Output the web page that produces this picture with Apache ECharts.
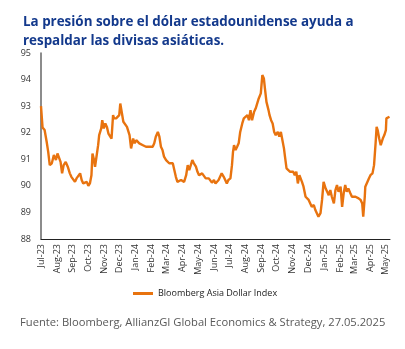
<!DOCTYPE html>
<html><head><meta charset="utf-8">
<script src="https://cdn.jsdelivr.net/npm/echarts@6/dist/echarts.min.js"></script>
<style>html,body{margin:0;padding:0;background:#fff}#c{width:405px;height:349px}</style>
</head><body><div id="c"></div>
<script>
const titleText = "La presión sobre el dólar estadounidense ayuda a\nrespaldar las divisas asiáticas.";
const sourceText = "Fuente: Bloomberg, AllianzGI Global Economics & Strategy, 27.05.2025";
const seriesName = "Bloomberg Asia Dollar Index";
const yTicks = [88, 89, 90, 91, 92, 93, 94, 95];
const monthTicks = ["2023-07-01","2023-08-01","2023-09-01","2023-10-01","2023-11-01","2023-12-01","2024-01-01","2024-02-01","2024-03-01","2024-04-01","2024-05-01","2024-06-01","2024-07-01","2024-08-01","2024-09-01","2024-10-01","2024-11-01","2024-12-01","2025-01-01","2025-02-01","2025-03-01","2025-04-01","2025-05-01"];
const monthLabels = ["Jul-23","Aug-23","Sep-23","Oct-23","Nov-23","Dec-23","Jan-24","Feb-24","Mar-24","Apr-24","May-24","Jun-24","Jul-24","Aug-24","Sep-24","Oct-24","Nov-24","Dec-24","Jan-25","Feb-25","Mar-25","Apr-25","May-25"];
const axisEnd = "2025-05-09";
const dates = [
"2023-07-01","2023-07-04","2023-07-08","2023-07-12","2023-07-15","2023-07-18","2023-07-22","2023-07-26","2023-07-30","2023-08-02",
"2023-08-05","2023-08-08","2023-08-11","2023-08-14","2023-08-18","2023-08-22","2023-08-26","2023-08-29","2023-09-01","2023-09-05",
"2023-09-08","2023-09-11","2023-09-15","2023-09-18","2023-09-21","2023-09-24","2023-09-28","2023-10-01","2023-10-04","2023-10-07",
"2023-10-09","2023-10-12","2023-10-14","2023-10-17","2023-10-20","2023-10-22","2023-10-26","2023-10-28","2023-10-31","2023-11-03",
"2023-11-06","2023-11-09","2023-11-12","2023-11-15","2023-11-18","2023-11-20","2023-11-24","2023-11-27","2023-11-30","2023-12-02",
"2023-12-05","2023-12-08","2023-12-11","2023-12-15","2023-12-17","2023-12-20","2023-12-23","2023-12-27","2023-12-30","2024-01-02",
"2024-01-05","2024-01-08","2024-01-11","2024-01-15","2024-01-18","2024-01-21","2024-01-24","2024-01-28","2024-01-31","2024-02-03",
"2024-02-06","2024-02-09","2024-02-13","2024-02-16","2024-02-19","2024-02-22","2024-02-25","2024-02-29","2024-03-03","2024-03-06",
"2024-03-09","2024-03-13","2024-03-16","2024-03-19","2024-03-22","2024-03-25","2024-03-29","2024-04-01","2024-04-04","2024-04-08",
"2024-04-11","2024-04-14","2024-04-17","2024-04-20","2024-04-23","2024-04-27","2024-04-30","2024-05-03","2024-05-06","2024-05-09",
"2024-05-12","2024-05-16","2024-05-19","2024-05-22","2024-05-25","2024-05-28","2024-06-01","2024-06-04","2024-06-07","2024-06-10",
"2024-06-13","2024-06-16","2024-06-20","2024-06-23","2024-06-26","2024-06-29","2024-07-03","2024-07-06","2024-07-08","2024-07-10",
"2024-07-13","2024-07-16","2024-07-19","2024-07-22","2024-07-26","2024-07-29","2024-08-01","2024-08-05","2024-08-08","2024-08-11",
"2024-08-14","2024-08-18","2024-08-21","2024-08-24","2024-08-27","2024-08-31","2024-09-03","2024-09-06","2024-09-08","2024-09-11",
"2024-09-15","2024-09-17","2024-09-20","2024-09-23","2024-09-26","2024-09-29","2024-10-03","2024-10-06","2024-10-09","2024-10-12",
"2024-10-15","2024-10-17","2024-10-20","2024-10-23","2024-10-27","2024-10-30","2024-11-02","2024-11-05","2024-11-08","2024-11-11",
"2024-11-14","2024-11-16","2024-11-19","2024-11-22","2024-11-26","2024-11-29","2024-12-02","2024-12-05","2024-12-08","2024-12-12",
"2024-12-15","2024-12-18","2024-12-21","2024-12-25","2024-12-28","2024-12-31","2025-01-04","2025-01-07","2025-01-10","2025-01-13",
"2025-01-16","2025-01-20","2025-01-23","2025-01-26","2025-01-29","2025-02-02","2025-02-05","2025-02-08","2025-02-11","2025-02-14",
"2025-02-17","2025-02-21","2025-02-24","2025-02-27","2025-03-03","2025-03-06","2025-03-09","2025-03-13","2025-03-16","2025-03-18",
"2025-03-21","2025-03-22","2025-03-25","2025-03-29","2025-04-01","2025-04-05","2025-04-08","2025-04-11","2025-04-13","2025-04-15",
"2025-04-18","2025-04-21","2025-04-25","2025-04-28","2025-05-01","2025-05-02","2025-05-08"
];
const values = [
93.0,92.2,92.1,91.66,91.28,90.78,90.85,91.16,90.97,91.22,
91.16,90.9,90.47,90.78,90.9,90.72,90.47,90.34,90.4,90.15,
90.28,90.22,90.47,90.22,90.09,90.03,90.15,90.0,90.09,90.4,
91.22,90.97,90.72,90.66,91.53,91.91,92.16,92.47,92.16,92.35,
92.22,91.97,92.03,91.78,92.66,92.54,92.54,92.6,92.66,93.1,
93.1,92.41,92.35,92.22,92.16,91.91,91.41,91.78,91.6,91.72,
91.78,91.6,91.66,91.53,91.53,91.47,91.53,91.47,91.53,91.47,
91.6,91.85,92.03,91.85,91.47,91.35,91.1,90.97,90.9,90.85,
90.85,90.85,90.78,90.34,90.15,90.22,90.22,90.22,90.15,90.4,
90.78,90.59,90.53,90.97,90.85,90.72,90.53,90.4,90.34,90.47,
90.47,90.28,90.22,90.28,90.22,90.12,90.22,90.09,90.15,90.22,
90.15,90.47,90.34,90.28,90.09,90.22,90.28,90.78,91.28,91.53,
91.35,91.47,91.6,92.03,92.35,92.54,92.6,92.66,92.47,92.85,
92.47,92.79,92.91,92.98,93.29,93.48,94.17,94.04,93.67,93.16,
92.85,92.66,92.47,92.35,92.03,91.91,92.03,91.85,92.03,92.1,
91.41,91.1,90.66,90.59,90.53,90.59,90.53,90.4,90.53,90.09,
90.4,90.34,90.15,89.97,89.59,89.53,89.47,89.4,89.21,89.28,
89.09,89.03,88.84,88.97,89.47,90.15,89.9,89.78,89.65,89.84,
89.59,89.34,89.84,90.03,89.78,89.97,89.21,89.72,90.03,89.78,
89.9,89.72,89.59,89.65,89.59,89.59,89.53,89.47,89.34,88.84,
89.59,89.97,90.03,90.28,90.4,90.47,90.78,91.6,92.22,92.1,
91.78,91.53,91.78,91.91,92.1,92.54,92.6
];

const ts = s => { const p = s.split('-').map(Number); return Date.UTC(p[0], p[1]-1, p[2]); };
const tickTs = monthTicks.map(ts);
const labelMap = {};
tickTs.forEach((t,i) => labelMap[t] = monthLabels[i]);
const seriesData = dates.map((d,i) => [ts(d), values[i]]);

const chart = echarts.init(document.getElementById('c'), null, {renderer:'canvas'});
chart.setOption({
  animation:false,
  title:{ text: titleText, left: 18, top: 8,
    textStyle:{ fontFamily:'Open Sans', fontSize:13.4, fontWeight:'bold', color:'#13398C', lineHeight:19 } },
  grid:{ left:41, right:15, top:53, bottom:110, containLabel:false },
  legend:{ data:[seriesName], left:128, top:284, itemWidth:20, itemHeight:3, icon:'rect', itemGap:5,
    textStyle:{ fontFamily:'Open Sans', fontSize:9, color:'#222' } },
  xAxis:{ type:'value', min: ts(monthTicks[0]), max: ts(axisEnd),
    axisLine:{ show:true, lineStyle:{ color:'#222', width:1 } },
    axisTick:{ show:false },
    splitLine:{ show:false },
    axisLabel:{ customValues: tickTs, rotate:90, fontFamily:'Open Sans', fontSize:9, color:'#333', margin:5,
      formatter: v => labelMap[v] || '' } },
  yAxis:{ type:'value', min: yTicks[0], max: yTicks[yTicks.length-1], interval:1,
    axisLine:{ show:true, lineStyle:{ color:'#666', width:1.5 } },
    axisTick:{ show:false },
    splitLine:{ show:false },
    axisLabel:{ fontFamily:'Open Sans', fontSize:9, color:'#333', margin:10 } },
  series:[{ name: seriesName, type:'line', data: seriesData, showSymbol:false, symbol:'none',
    lineStyle:{ color:'#E8730F', width:2.4 }, itemStyle:{ color:'#E8730F' } }],
  graphic:[{ type:'text', left:20, top:317,
    style:{ text: sourceText, font:'11.2px "Open Sans"', fill:'#595959' } }]
});
</script></body></html>
